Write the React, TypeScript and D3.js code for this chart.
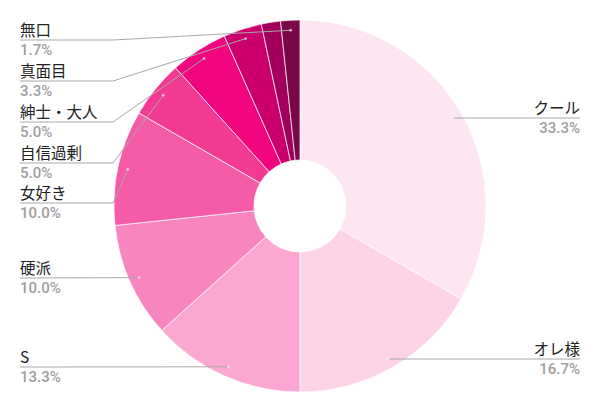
import * as d3 from 'd3'

// slices clockwise from 12 o'clock (counts out of 60 answers)
const categories = ['クール', 'オレ様', 'S', '硬派', '女好き', '自信過剰', '紳士・大人', '真面目', 'その他', '無口']
const counts = [20, 10, 8, 6, 6, 3, 3, 2, 1, 1]
const colors = ['#fde5f1', '#fdd3e7', '#fba7d1', '#f985be', '#f65ba7', '#f33a93', '#f2067f', '#cc006d', '#a3005e', '#7a0847']
// which slices get a label (the tiny unlabeled one is dropped like in the original)
const showLabel = [true, true, true, true, true, true, true, true, false, true]

// label layout: y of the rule under each name
const labelLineY = [118, 359, 367, 278, 203, 163, 122, 81, 0, 40]

const W = 600
const H = 413
const cx = 300
const cy = 206
const R = 186
const r0 = 46
const LEFT_X = 20
const RIGHT_X = 580
const BEND_X = 113

export default function App() {
  const total = d3.sum(counts)
  const pie = d3.pie<number>().sort(null).value(d => d)
  const arcs = pie(counts)
  const arc = d3.arc<d3.PieArcDatum<number>>().innerRadius(r0).outerRadius(R)
  const anchorArc = d3.arc<d3.PieArcDatum<number>>().innerRadius(R - 10).outerRadius(R - 10)
  const fmt = d3.format('.1f')

  return (
    <svg width={W} height={H} style={{ position: 'absolute', left: 0, top: 0, background: '#fff' }}>
      <g transform={`translate(${cx},${cy})`}>
        {arcs.map((a, i) => (
          <path key={i} d={arc(a) ?? ''} fill={colors[i]} stroke="#fff" strokeWidth={1} strokeOpacity={0.7} />
        ))}
      </g>
      {arcs.map((a, i) => {
        if (!showLabel[i]) return null
        const [ax0, ay0] = anchorArc.centroid(a)
        const ax = cx + ax0
        const ay = cy + ay0
        const y = labelLineY[i]
        const right = ax > cx
        const pct = fmt((counts[i] / total) * 100) + '%'
        const pts = right
          ? [[ax, y], [RIGHT_X, y]]
          : Math.abs(ay - y) < 2
            ? [[LEFT_X, y], [ax, ay]]
            : [[LEFT_X, y], [BEND_X, y], [ax, ay]]
        const line = d3.line()(pts as [number, number][]) ?? ''
        const tx = right ? RIGHT_X : LEFT_X
        const anchor = right ? 'end' : 'start'
        return (
          <g key={i}>
            <path d={line} fill="none" stroke="#a8a8a8" strokeWidth={1} />
            <circle cx={ax} cy={ay} r={1.4} fill="#fff" fillOpacity={0.6} />
            <text x={tx} y={y - 4} textAnchor={anchor} fontSize={15.5}
              fontFamily="'Noto Sans CJK JP', Roboto, sans-serif" fill="#222">{categories[i]}</text>
            <text x={tx} y={y + 15} textAnchor={anchor} fontSize={15} fontWeight={500}
              fontFamily="Roboto, sans-serif" fill="#9e9e9e">{pct}</text>
          </g>
        )
      })}
    </svg>
  )
}
